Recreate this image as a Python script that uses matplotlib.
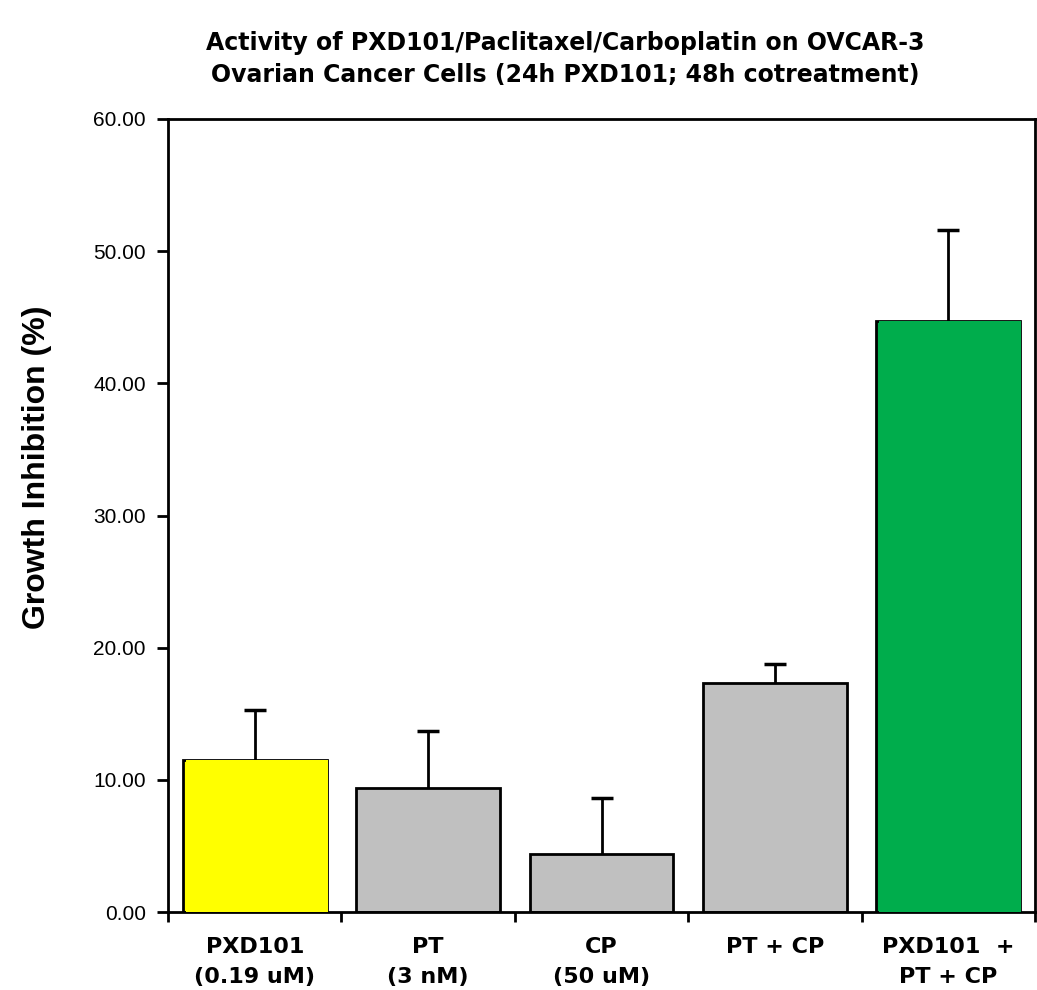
import matplotlib
matplotlib.use("Agg")
import matplotlib.pyplot as plt
import numpy as np

categories = ["PXD101\n(0.19 uM)", "PT\n(3 nM)", "CP\n(50 uM)", "PT + CP", "PXD101  +\nPT + CP"]
values = [11.5, 9.4, 4.4, 17.3, 44.7]
errors = [3.75, 4.3, 4.2, 1.5, 6.9]
colors = ["#FFFF00", "#C0C0C0", "#C0C0C0", "#C0C0C0", "#00AD4C"]
yticks = [0, 10, 20, 30, 40, 50, 60]
title_lines = ["Activity of PXD101/Paclitaxel/Carboplatin on OVCAR-3",
               "Ovarian Cancer Cells (24h PXD101; 48h cotreatment)"]

plt.rcParams['font.family'] = ['Liberation Sans', 'DejaVu Sans']

W, H = 1037, 990
fig = plt.figure(figsize=(W / 100, H / 100), dpi=100)
ax = fig.add_axes([168 / W, 1 - 912 / H, (1035 - 168) / W, (912 - 119) / H])

x = np.arange(len(categories))
width = 0.83
ax.bar(x, values, width=width, color=colors, edgecolor="black", linewidth=2, zorder=2)
# colored highlight bars drawn over their outline (as in the reference)
for xi, v, c in zip(x, values, colors):
    if c != "#C0C0C0":
        ax.bar(xi + 0.012, v, width=width - 0.012, color=c, edgecolor="none",
               linewidth=0, zorder=3)
eb = ax.errorbar(x, values, yerr=[np.zeros(len(errors)), errors], fmt="none",
                 ecolor="black", elinewidth=2, capsize=8, capthick=2.5, zorder=1)
# only the upper cap is shown
caps = eb[1]
if len(caps) >= 2:
    caps[0].set_visible(False)

ax.set_xlim(-0.5, len(categories) - 0.5)
ax.set_ylim(0, 60)
ax.set_yticks(yticks)
ax.set_yticklabels([f"{t:.2f}" for t in yticks], fontsize=15)
ax.set_xticks(x)
ax.set_xticklabels(categories, fontsize=16, fontweight="bold", linespacing=1.65,
                   family="DejaVu Sans")
ax.set_xticks(np.arange(len(categories) + 1) - 0.5, minor=True)
ax.tick_params(axis="x", which="major", length=0, pad=18)
ax.tick_params(axis="x", which="minor", length=7, width=2, direction="out")
ax.tick_params(axis="y", length=8, width=2, direction="out", pad=8)
for s in ax.spines.values():
    s.set_linewidth(2)

fig.text(37 / W, 1 - 467 / H, "Growth Inhibition (%)", fontsize=23, fontweight="bold",
         rotation=90, ha="center", va="center")
fig.text(565 / W, 1 - 43 / H, title_lines[0], fontsize=17, fontweight="bold",
         family="DejaVu Sans", ha="center", va="center")
fig.text(565 / W, 1 - 75 / H, title_lines[1], fontsize=17, fontweight="bold",
         family="DejaVu Sans", ha="center", va="center")

fig.savefig("out.png", dpi=100, facecolor="white")
